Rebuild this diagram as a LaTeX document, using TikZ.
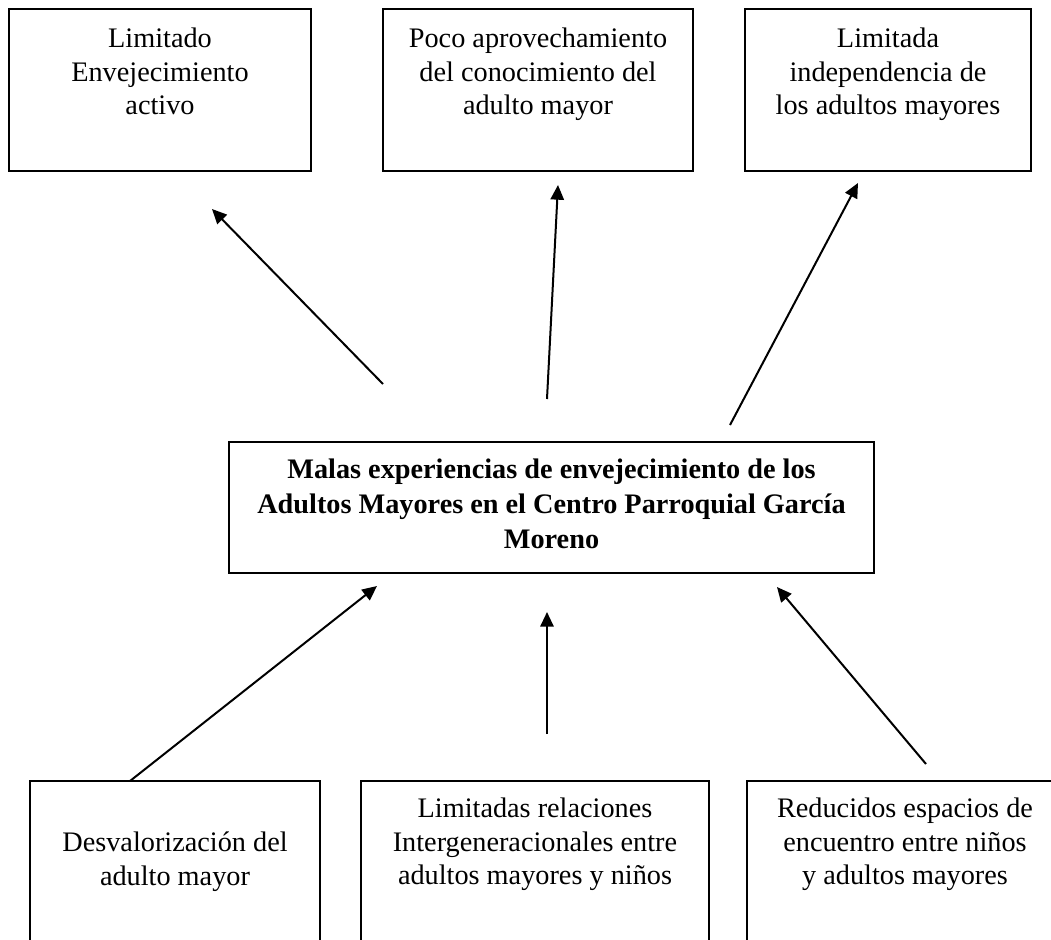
\documentclass[tikz,border=0pt]{standalone}
\usepackage{fontspec}
\setmainfont{Liberation Serif}
\usetikzlibrary{arrows.meta}
\begin{document}
\begin{tikzpicture}[x=0.75pt, y=-0.75pt, line join=miter,
	caja/.style={draw, line width=1.4pt, inner sep=0pt},
	texto/.style={anchor=north, inner sep=0pt, align=center, font=\fontsize{21.2}{25.1}\selectfont},
	flecha/.style={-{Triangle[length=11pt, width=10pt]}, line width=1.5pt}]
			\useasboundingbox (0,0) rectangle (1051,940);
			\clip (0,0) rectangle (1051,940);
			\node[caja, minimum width=226.5pt, minimum height=121.5pt] (efecto1) at (160,90) {};
			\node[caja, minimum width=232.5pt, minimum height=121.5pt] (efecto2) at (538,90) {};
			\node[caja, minimum width=214.5pt, minimum height=121.5pt] (efecto3) at (888,90) {};
			\node[texto] (tefecto1) at (160,28) {Limitado\\Envejecimiento\\activo};
			\node[texto] (tefecto2) at (538,28) {Poco aprovechamiento\\del conocimiento del\\adulto mayor};
			\node[texto] (tefecto3) at (888,28) {Limitada\\independencia de\\los adultos mayores};
			\node[caja, minimum width=483.75pt, minimum height=98.25pt] (problema) at (551.5,507.5) {};
			\node[texto, font=\fontsize{21.2}{26}\selectfont\bfseries] (tproblema) at (551.5,459) {Malas experiencias de envejecimiento de los\\Adultos Mayores en el Centro Parroquial García\\Moreno};
			\node[caja, minimum width=217.5pt, minimum height=134.25pt] (causa1) at (175,870.5) {};
			\node[caja, minimum width=261pt, minimum height=134.25pt] (causa2) at (535,870.5) {};
			\node[caja, minimum width=237pt, minimum height=134.25pt] (causa3) at (905,870.5) {};
			\node[texto] (tcausa1) at (175,832) {Desvalorización del\\adulto mayor};
			\node[texto] (tcausa2) at (535,798) {Limitadas relaciones\\Intergeneracionales entre\\adultos mayores y niños};
			\node[texto] (tcausa3) at (905,798) {Reducidos espacios de\\encuentro entre niños\\y adultos mayores};
			\coordinate (s1) at (383,384); \coordinate (e1) at (212,209);
			\coordinate (s2) at (547,399); \coordinate (e2) at (558,185);
			\coordinate (s3) at (730,425); \coordinate (e3) at (858,183);
			\coordinate (s4) at (130,781); \coordinate (e4) at (377,586);
			\coordinate (s5) at (547,734); \coordinate (e5) at (547,612);
			\coordinate (s6) at (926,764); \coordinate (e6) at (777,587);
			\foreach \i in {1,...,6}
			\draw[flecha] (s\i)--(e\i);
		\end{tikzpicture}
\end{document}
